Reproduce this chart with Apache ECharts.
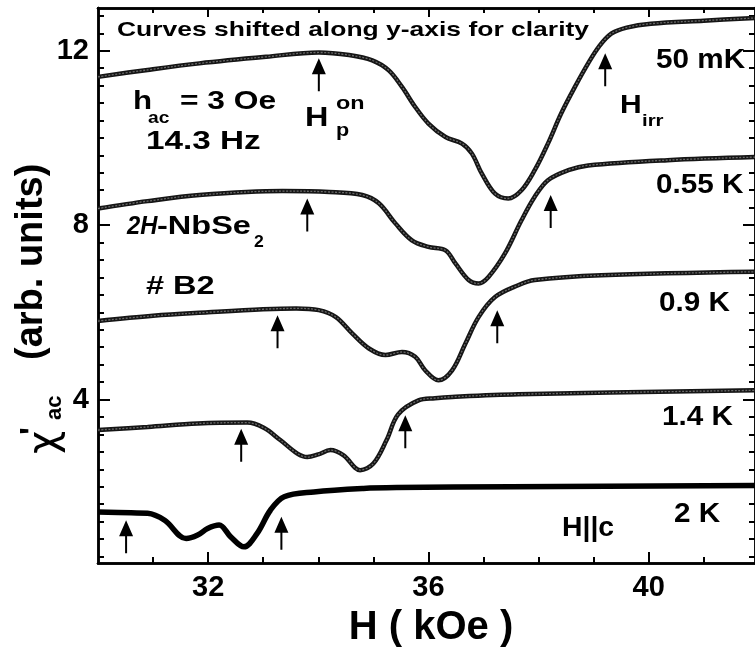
<!DOCTYPE html>
<html>
<head>
<meta charset="utf-8">
<script src="https://cdn.jsdelivr.net/npm/echarts@6/dist/echarts.min.js"></script>
<style>html,body{margin:0;padding:0;background:#fff;}#c{width:755px;height:656px;}</style>
</head>
<body>
<div id="c"></div>
<script>
// ---- data (H in kOe, chi' in arb. units, curves shifted) ----
const curve50mK = [[30.0,11.40],[30.9,11.56],[31.84,11.71],[33.05,11.86],[34.01,11.96],[34.56,11.90],[34.98,11.78],[35.28,11.55],[35.52,11.17],[35.76,10.71],[36.0,10.33],[36.31,10.02],[36.61,9.87],[36.79,9.64],[36.97,9.18],[37.21,8.72],[37.45,8.61],[37.69,8.80],[37.93,9.26],[38.17,9.87],[38.41,10.56],[38.66,11.17],[38.90,11.71],[39.10,12.10],[39.32,12.39],[39.6,12.53],[40.04,12.62],[41.0,12.69],[41.93,12.75]];
const curve055K = [[30.0,8.38],[30.9,8.55],[31.84,8.69],[33.35,8.78],[34.2,8.76],[34.8,8.69],[35.1,8.50],[35.4,8.04],[35.7,7.65],[36.0,7.50],[36.31,7.42],[36.49,7.12],[36.73,6.74],[36.91,6.66],[37.09,6.81],[37.39,7.35],[37.69,8.11],[37.93,8.65],[38.17,9.03],[38.54,9.26],[38.9,9.37],[40.34,9.49],[41.93,9.56]];
const curve09K = [[30.0,5.80],[31.0,5.92],[32.0,6.00],[33.0,6.07],[33.6,6.09],[34.01,6.05],[34.32,5.89],[34.62,5.51],[34.92,5.17],[35.22,5.02],[35.52,5.09],[35.76,4.98],[35.94,4.67],[36.18,4.44],[36.43,4.67],[36.67,5.28],[36.91,5.89],[37.21,6.35],[37.63,6.62],[37.93,6.74],[39.14,6.85],[41.93,6.93]];
const curve14K = [[30.0,3.30],[30.9,3.37],[31.81,3.45],[32.71,3.47],[33.01,3.35],[33.31,3.07],[33.62,2.76],[33.80,2.68],[34.0,2.74],[34.22,2.84],[34.46,2.72],[34.76,2.38],[35.0,2.53],[35.24,3.07],[35.45,3.66],[35.82,3.98],[36.12,4.03],[36.43,4.06],[37.63,4.12],[41.93,4.21]];
const curve2K = [[30.0,1.42],[30.6,1.40],[30.9,1.39],[31.21,1.23],[31.6,0.81],[31.81,0.89],[31.99,1.04],[32.2,1.12],[32.41,0.85],[32.65,0.62],[32.89,0.93],[33.13,1.46],[33.38,1.77],[33.92,1.88],[34.82,1.96],[35.42,1.98],[37.5,2.00],[41.93,2.03]];
// arrow tips (H_p^on and H_irr markers)
const arrowTips = [[34.01,11.83],[39.21,11.94],[33.80,8.61],[38.22,8.69],[33.26,5.93],[37.25,6.05],[32.60,3.33],[35.58,3.64],[30.51,1.23],[33.33,1.31]];
// axis ticks
const xMajorTicks = [32, 36, 40];
const xMinorTicks = [31, 33, 34, 35, 37, 38, 39, 41];
const yMajorTicks = [4, 8, 12];
const yMinorTicks = [0.4,0.8,1.2,1.6,2.0,2.4,2.8,3.2,3.6,4.4,4.8,5.2,5.6,6.0,6.4,6.8,7.2,7.6,8.4,8.8,9.2,9.6,10.0,10.4,10.8,11.2,11.6,12.4,12.8];
const X_MIN = 30, X_MAX = 41.93, Y_MIN = 0.25, Y_MAX = 12.98;

const FF = '"Liberation Sans", Arial, sans-serif';
const chart = echarts.init(document.getElementById('c'), null, {renderer: 'canvas'});

function axis(kind, pos, ticks, len, withLabels) {
  const a = {
    type: 'value', position: pos,
    min: kind === 'x' ? X_MIN : Y_MIN, max: kind === 'x' ? X_MAX : Y_MAX,
    axisLine: {show: true, onZero: false, lineStyle: {color: '#000', width: 2.5}},
    axisTick: {show: true, inside: true, length: len, customValues: ticks, lineStyle: {color: '#000', width: 2}},
    axisLabel: {show: false},
    splitLine: {show: false}
  };
  if (withLabels) {
    a.axisLabel = {show: true, customValues: ticks, color: '#000', fontFamily: FF, fontWeight: 'bold', fontSize: 29, margin: kind === 'x' ? 10 : 9};
  }
  return a;
}

function curve(data, w, c) {
  return {type: 'line', data: data, smooth: 0.35, showSymbol: false, symbol: 'none', silent: true,
    lineStyle: {color: c, width: w}, xAxisIndex: 0, yAxisIndex: 0, z: 3};
}
function inner(data) {
  return {type: 'line', data: data, smooth: 0.35, showSymbol: false, symbol: 'none', silent: true,
    lineStyle: {color: '#6a6a6a', width: 1.3, type: [2, 1.5]}, xAxisIndex: 0, yAxisIndex: 0, z: 4};
}

function txt(x, y, text, size, opts) {
  opts = opts || {};
  return {type: 'text', x: x, y: y, scaleX: opts.sx || 1, z: 10,
    style: {text: text, fill: '#000', font: (opts.italic ? 'italic ' : '') + (opts.normal ? 'normal ' : 'bold ') + size + 'px ' + FF,
      align: opts.align || 'left', verticalAlign: 'middle'}};
}

const graphics = [
  txt(117, 30, 'Curves shifted along y-axis for clarity', 21, {sx: 1.26}),
  txt(133, 102, 'h', 25, {sx: 1.25}),
  txt(148, 119, 'ac', 16, {sx: 1.2}),
  txt(180, 102, '= 3 Oe', 25, {sx: 1.27}),
  txt(146, 142, '14.3 Hz', 25, {sx: 1.33}),
  txt(127, 227, '2H', 25, {sx: 0.95, italic: true}),
  txt(157, 227, '-NbSe', 25, {sx: 1.3}),
  txt(254, 243, '2', 16, {sx: 1.1}),
  txt(146, 287, '# B2', 25, {sx: 1.3}),
  txt(305, 119, 'H', 27, {sx: 1.2}),
  txt(336, 104, 'on', 18, {sx: 1.3}),
  txt(336, 131, 'p', 18, {sx: 1.2}),
  txt(620, 106, 'H', 25, {sx: 1.2}),
  txt(642, 121, 'irr', 17, {sx: 1.2}),
  txt(656, 61, '50 mK', 27, {sx: 1.1}),
  txt(656, 186, '0.55 K', 27, {sx: 1.1}),
  txt(659, 304, '0.9 K', 27, {sx: 1.1}),
  txt(662, 418, '1.4 K', 27, {sx: 1.1}),
  txt(674, 515, '2 K', 27, {sx: 1.1}),
  txt(562, 529, 'H||c', 27, {sx: 1.05}),
  txt(431, 628, 'H ( kOe )', 40, {align: 'center'}),
  {type: 'group', x: 0, y: 456, rotation: Math.PI / 2, children: [
    {type: 'text', x: 2, y: 46, style: {text: 'χ', fill: '#000', font: 'normal 40px "DejaVu Sans", ' + FF, align: 'left', verticalAlign: 'middle'}},
    {type: 'text', x: 21, y: 34, style: {text: '\'', fill: '#000', font: 'bold 34px ' + FF, align: 'left', verticalAlign: 'middle'}},
    {type: 'text', x: 36, y: 55, style: {text: 'ac', fill: '#000', font: 'bold 22px ' + FF, align: 'left', verticalAlign: 'middle'}},
    {type: 'text', x: 96, y: 32, style: {text: '(arb. units)', fill: '#000', font: 'bold 38px ' + FF, align: 'left', verticalAlign: 'middle'}}
  ]}
];

const option = {
  backgroundColor: '#fff',
  animation: false,
  grid: {left: 98, top: 8, right: -3, bottom: 93, containLabel: false},
  xAxis: [
    axis('x', 'bottom', xMajorTicks, 11, true),
    axis('x', 'bottom', xMinorTicks, 6, false),
    axis('x', 'top', xMajorTicks, 9, false),
    axis('x', 'top', xMinorTicks, 5, false)
  ],
  yAxis: [
    axis('y', 'left', yMajorTicks, 12, true),
    axis('y', 'left', yMinorTicks, 6, false),
    axis('y', 'right', yMajorTicks, 12, false),
    axis('y', 'right', yMinorTicks, 6, false)
  ],
  series: [
    curve(curve50mK, 4.5, '#151515'), inner(curve50mK),
    curve(curve055K, 4.5, '#151515'), inner(curve055K),
    curve(curve09K, 4.5, '#151515'), inner(curve09K),
    curve(curve14K, 4.5, '#151515'), inner(curve14K),
    curve(curve2K, 5.5, '#000'),
    {type: 'scatter', data: arrowTips, xAxisIndex: 0, yAxisIndex: 0, silent: true, z: 5,
      symbol: 'path://M7,0 L14,16 L8,16 L8,33 L6,33 L6,16 L0,16 Z', symbolSize: [14, 33], symbolOffset: [0, '50%'],
      itemStyle: {color: '#000', opacity: 1}}
  ],
  graphic: graphics
};
chart.setOption(option);
</script>
</body>
</html>
